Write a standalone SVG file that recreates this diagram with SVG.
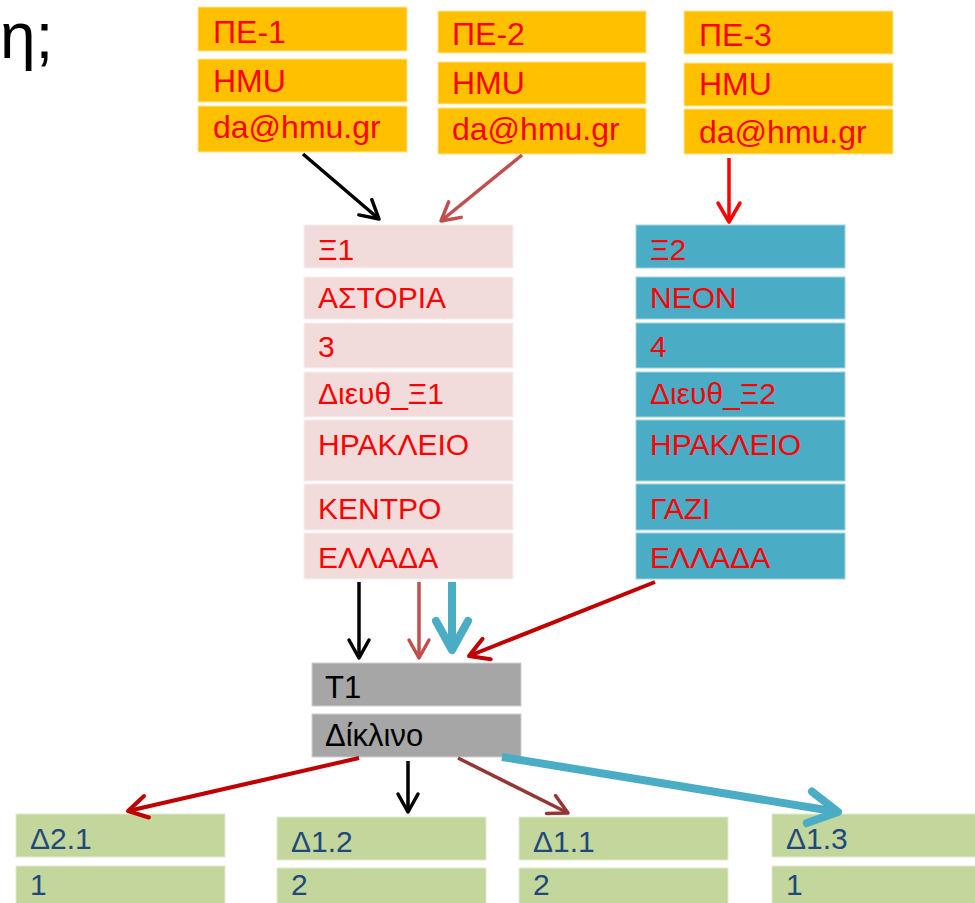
<svg xmlns="http://www.w3.org/2000/svg" width="975" height="903" viewBox="0 0 975 903">
<style>
.t{font-family:"Liberation Sans",Arial,sans-serif;}
.pe rect{fill:#FFC000;stroke:#FFE699;stroke-width:1}
.pe text{fill:#FF0000;font-size:32px}
.x1 rect{fill:#F2DCDB;stroke:#FAEEEE;stroke-width:1}
.x2 rect{fill:#4BACC6;stroke:#9FD3E0;stroke-width:1}
.x1 text,.x2 text{fill:#FF0000;font-size:30px}
.tb rect{fill:#A6A6A6;stroke:#D0D0D0;stroke-width:1}
.tb text{fill:#000;font-size:31px}
.d rect{fill:#C3D69B;stroke:#E2EBCF;stroke-width:1}
.d text{fill:#1F497D;font-size:30px}
.c line{fill:none}
</style>
<defs>
<marker id="mK" markerUnits="userSpaceOnUse" viewBox="-30 -20 40 40" markerWidth="40" markerHeight="40" refX="0" refY="0" orient="auto" overflow="visible"><path d="M-18,-10 L0,0 L-18,10" fill="none" stroke="#000" stroke-width="3.5" stroke-linecap="round" stroke-linejoin="round"/></marker>
<marker id="mB" markerUnits="userSpaceOnUse" viewBox="-30 -20 40 40" markerWidth="40" markerHeight="40" refX="0" refY="0" orient="auto" overflow="visible"><path d="M-18,-10 L0,0 L-18,10" fill="none" stroke="#C0504D" stroke-width="3.5" stroke-linecap="round" stroke-linejoin="round"/></marker>
<marker id="mR" markerUnits="userSpaceOnUse" viewBox="-30 -20 40 40" markerWidth="40" markerHeight="40" refX="0" refY="0" orient="auto" overflow="visible"><path d="M-19,-11 L0,0 L-19,11" fill="none" stroke="#FF0000" stroke-width="3.5" stroke-linecap="round" stroke-linejoin="round"/></marker>
<marker id="mD" markerUnits="userSpaceOnUse" viewBox="-30 -20 40 40" markerWidth="40" markerHeight="40" refX="0" refY="0" orient="auto" overflow="visible"><path d="M-19,-11 L0,0 L-19,11" fill="none" stroke="#C00000" stroke-width="4" stroke-linecap="round" stroke-linejoin="round"/></marker>
<marker id="mM" markerUnits="userSpaceOnUse" viewBox="-30 -20 40 40" markerWidth="40" markerHeight="40" refX="0" refY="0" orient="auto" overflow="visible"><path d="M-19,-10 L0,0 L-19,10" fill="none" stroke="#943634" stroke-width="3.5" stroke-linecap="round" stroke-linejoin="round"/></marker>
<marker id="mT" markerUnits="userSpaceOnUse" viewBox="-40 -25 50 50" markerWidth="50" markerHeight="50" refX="0" refY="0" orient="auto" overflow="visible"><path d="M-29,-16 L0,0 L-29,16" fill="none" stroke="#4BACC6" stroke-width="8" stroke-linecap="round" stroke-linejoin="round"/></marker>
</defs>
<rect width="975" height="903" fill="#fff"/>
<text class="t" x="0" y="58" font-size="64" fill="#000">η;</text>

<g id="pe1" class="pe t">
<rect x="198" y="7" width="209" height="44"/><rect x="198" y="59" width="209" height="43"/><rect x="198" y="106" width="209" height="46"/>
<text x="213" y="43">ΠΕ-1</text><text x="213" y="92">HMU</text><text x="213" y="138">da@hmu.gr</text>
</g>
<g id="pe2" class="pe t">
<rect x="438" y="11" width="208" height="42"/><rect x="438" y="62" width="208" height="42"/><rect x="438" y="108" width="208" height="46"/>
<text x="452" y="45">ΠΕ-2</text><text x="452" y="94">HMU</text><text x="452" y="140">da@hmu.gr</text>
</g>
<g id="pe3" class="pe t">
<rect x="684" y="11" width="209" height="43"/><rect x="684" y="63" width="209" height="43"/><rect x="684" y="109" width="209" height="45"/>
<text x="699" y="46">ΠΕ-3</text><text x="699" y="95">HMU</text><text x="699" y="143">da@hmu.gr</text>
</g>

<g id="xi1" class="x1 t">
<rect x="304" y="225" width="209" height="43"/><rect x="304" y="277" width="209" height="42"/><rect x="304" y="323" width="209" height="45"/><rect x="304" y="372" width="209" height="45"/><rect x="304" y="420" width="209" height="61"/><rect x="304" y="484" width="209" height="46"/><rect x="304" y="533" width="209" height="46"/>
<text x="318" y="260">Ξ1</text><text x="318" y="308">ΑΣΤΟΡΙΑ</text><text x="318" y="357">3</text><text x="318" y="404">Διευθ_Ξ1</text><text x="318" y="455">ΗΡΑΚΛΕΙΟ</text><text x="318" y="519">ΚΕΝΤΡΟ</text><text x="318" y="568">ΕΛΛΑΔΑ</text>
</g>
<g id="xi2" class="x2 t">
<rect x="636" y="225" width="209" height="43"/><rect x="636" y="277" width="209" height="42"/><rect x="636" y="323" width="209" height="45"/><rect x="636" y="372" width="209" height="45"/><rect x="636" y="420" width="209" height="61"/><rect x="636" y="484" width="209" height="46"/><rect x="636" y="533" width="209" height="46"/>
<text x="650" y="260">Ξ2</text><text x="650" y="308">ΝΕΟΝ</text><text x="650" y="357">4</text><text x="650" y="404">Διευθ_Ξ2</text><text x="650" y="455">ΗΡΑΚΛΕΙΟ</text><text x="650" y="519">ΓΑΖΙ</text><text x="650" y="568">ΕΛΛΑΔΑ</text>
</g>

<g id="t1" class="tb t">
<rect x="312" y="663" width="209" height="43"/><rect x="312" y="714" width="209" height="43"/>
<text x="325" y="698">Τ1</text><text x="325" y="746">Δίκλινο</text>
</g>

<g id="d21" class="d t">
<rect x="16" y="814" width="209" height="43"/><rect x="16" y="866" width="209" height="43"/>
<text x="30" y="849">Δ2.1</text><text x="30" y="895">1</text>
</g>
<g id="d12" class="d t">
<rect x="277" y="817" width="209" height="43"/><rect x="277" y="868" width="209" height="43"/>
<text x="291" y="852">Δ1.2</text><text x="291" y="895">2</text>
</g>
<g id="d11" class="d t">
<rect x="519" y="817" width="209" height="43"/><rect x="519" y="868" width="209" height="43"/>
<text x="533" y="852">Δ1.1</text><text x="533" y="895">2</text>
</g>
<g id="d13" class="d t">
<rect x="772" y="814" width="209" height="43"/><rect x="772" y="866" width="209" height="43"/>
<text x="786" y="849">Δ1.3</text><text x="786" y="895">1</text>
</g>

<g id="connectors" class="c">
<line x1="303" y1="154" x2="379" y2="219" stroke="#000" stroke-width="3.5" marker-end="url(#mK)"/>
<line x1="522" y1="155" x2="441" y2="221" stroke="#C0504D" stroke-width="3.5" marker-end="url(#mB)"/>
<line x1="729" y1="158" x2="729" y2="222" stroke="#FF0000" stroke-width="3.5" marker-end="url(#mR)"/>
<line x1="359" y1="582" x2="359" y2="658" stroke="#000" stroke-width="3.5" marker-end="url(#mK)"/>
<line x1="419" y1="582" x2="419" y2="658" stroke="#C0504D" stroke-width="3.5" marker-end="url(#mB)"/>
<line x1="452" y1="582" x2="452" y2="650" stroke="#4BACC6" stroke-width="8" marker-end="url(#mT)"/>
<line x1="655" y1="582" x2="469" y2="656" stroke="#C00000" stroke-width="4" marker-end="url(#mD)"/>
<line x1="359" y1="758" x2="128" y2="811" stroke="#C00000" stroke-width="4" marker-end="url(#mD)"/>
<line x1="408" y1="761" x2="408" y2="812" stroke="#000" stroke-width="3.5" marker-end="url(#mK)"/>
<line x1="458" y1="758" x2="568" y2="813" stroke="#943634" stroke-width="3.5" marker-end="url(#mM)"/>
<line x1="502" y1="757" x2="838" y2="812" stroke="#4BACC6" stroke-width="8" marker-end="url(#mT)"/>
</g>
</svg>
